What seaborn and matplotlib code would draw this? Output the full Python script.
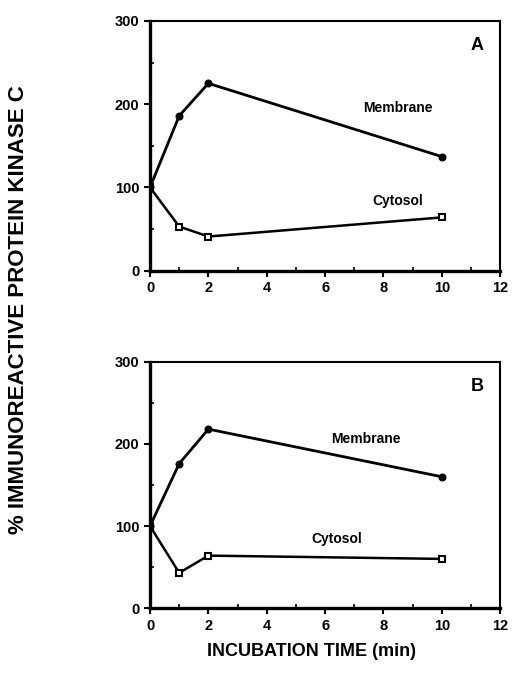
import pandas as pd
import numpy as np
import matplotlib
matplotlib.use("Agg")
import matplotlib.pyplot as plt
import seaborn as sns
from matplotlib.ticker import MultipleLocator

sns.set_style("ticks")
plt.rcParams['font.family'] = ['Liberation Sans', 'DejaVu Sans']
plt.rcParams['font.weight'] = 'bold'
for k in ['text.color', 'axes.labelcolor', 'xtick.color', 'ytick.color',
          'axes.edgecolor']:
    plt.rcParams[k] = 'black'

time_min = [0, 1, 2, 10]
membrane_a = [100, 186, 225, 137]
cytosol_a = [100, 53, 41, 64]
membrane_b = [100, 176, 218, 160]
cytosol_b = [100, 43, 64, 60]
panels = ["A", "B"]

fig = plt.figure(figsize=(5.12, 6.75), dpi=100)
ax_a = fig.add_axes([0.293, 0.599, 0.684, 0.370])
ax_b = fig.add_axes([0.293, 0.099, 0.684, 0.365])

def draw(ax, mem, cyt, letter, mem_lab, cyt_lab):
    df = pd.DataFrame({"t": time_min * 2,
                       "v": mem + cyt,
                       "frac": ["Membrane"] * 4 + ["Cytosol"] * 4})
    sns.lineplot(data=df[df.frac == "Membrane"], x="t", y="v", ax=ax,
                 color="black", lw=2, marker="o", markersize=5,
                 markerfacecolor="black", markeredgecolor="black")
    sns.lineplot(data=df[df.frac == "Cytosol"], x="t", y="v", ax=ax,
                 color="black", lw=1.8, marker="s", markersize=5,
                 markerfacecolor="white", markeredgecolor="black",
                 markeredgewidth=1.5)
    ax.set_xlim(0, 12)
    ax.set_ylim(0, 300)
    ax.xaxis.set_major_locator(MultipleLocator(2))
    ax.xaxis.set_minor_locator(MultipleLocator(1))
    ax.yaxis.set_major_locator(MultipleLocator(100))
    ax.yaxis.set_minor_locator(MultipleLocator(50))
    ax.tick_params(which="major", direction="out", length=4, width=1.5,
                   labelsize=10.5, colors="black")
    ax.tick_params(which="minor", direction="in", length=3, width=1.2,
                   colors="black")
    for lab in ax.get_xticklabels() + ax.get_yticklabels():
        lab.set_fontweight("bold")
    for s in ["left", "bottom"]:
        ax.spines[s].set_linewidth(2.4)
    for s in ["top", "right"]:
        ax.spines[s].set_linewidth(1.5)
    ax.set_xlabel("")
    ax.set_ylabel("")
    ax.text(0.935, 0.9, letter, transform=ax.transAxes, fontsize=13,
            fontweight="bold", ha="center", va="center")
    ax.text(mem_lab[0], mem_lab[1], "Membrane", fontsize=10, ha="center",
            va="center", fontweight="bold")
    ax.text(cyt_lab[0], cyt_lab[1], "Cytosol", fontsize=10, ha="center",
            va="center", fontweight="bold")

draw(ax_a, membrane_a, cytosol_a, panels[0], (8.5, 196), (8.5, 84))
draw(ax_b, membrane_b, cytosol_b, panels[1], (7.4, 206), (6.4, 84))

fig.text(0.037, 0.541, "% IMMUNOREACTIVE PROTEIN KINASE C", rotation=90,
         fontsize=16, fontweight="bold", ha="center", va="center")
fig.text(0.608, 0.035, "INCUBATION TIME (min)", fontsize=13,
         fontweight="bold", ha="center", va="center")

fig.savefig("out.png", dpi=100)
